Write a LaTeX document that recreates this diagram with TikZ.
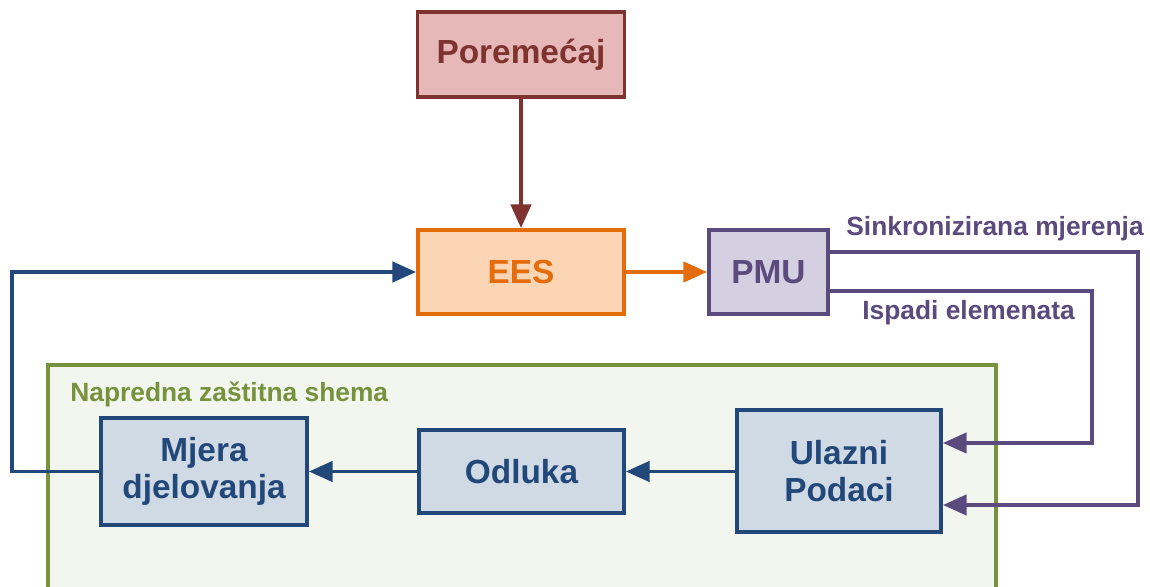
\documentclass[tikz,border=0pt]{standalone}
\usepackage{fontspec}
\setmainfont{Liberation Sans}
\usetikzlibrary{arrows.meta}
\definecolor{redD}{HTML}{7E3331}
\definecolor{redL}{HTML}{E6B9B8}
\definecolor{oraD}{HTML}{E46C0A}
\definecolor{oraL}{HTML}{FCD5B5}
\definecolor{purD}{HTML}{5B4A7E}
\definecolor{purL}{HTML}{D5CFE2}
\definecolor{bluD}{HTML}{22487A}
\definecolor{bluL}{HTML}{D0DAE5}
\definecolor{grnD}{HTML}{76923C}
\definecolor{grnL}{HTML}{F3F6EE}
\tikzset{
  box/.style={draw, line width=2.2pt, align=center, font=\bfseries\fontsize{19}{21}\selectfont, inner sep=0pt},
  redbox/.style={box, draw=redD, fill=redL, text=redD},
  orabox/.style={box, draw=oraD, fill=oraL, text=oraD},
  purbox/.style={box, draw=purD, fill=purL, text=purD},
  blubox/.style={box, draw=bluD, fill=bluL, text=bluD},
  conn/.style={line width=2.2pt, -{Triangle[length=13.5pt,width=11.5pt]}},
  lbl/.style={font=\bfseries\fontsize{15}{17}\selectfont, inner sep=0pt}
}
\begin{document}
\begin{tikzpicture}[x=0.02cm, y=-0.02cm]
\clip (0,0) rectangle (1150,587);
\fill[white] (0,0) rectangle (1150,587);
% container
\node[draw=grnD, fill=grnL, line width=2pt, minimum width=18.96cm, minimum height=5cm, inner sep=0pt] (zone) at (522,490) {};
\node[lbl, text=grnD, anchor=west] (zlbl) at (70,394) {Napredna zaštitna shema};
% boxes
\node[redbox, minimum width=4.14cm, minimum height=1.7cm] (por) at (521,54.5) {Poremećaj};
\node[orabox, minimum width=4.12cm, minimum height=1.68cm] (ees) at (521,272) {EES};
\node[purbox, minimum width=2.38cm, minimum height=1.68cm] (pmu) at (768.5,272) {PMU};
\node[blubox, minimum width=4.12cm, minimum height=2.14cm] (mje) at (204,471.5) {Mjera\\djelovanja};
\node[blubox, minimum width=4.1cm, minimum height=1.66cm] (odl) at (521.5,471.5) {Odluka};
\node[blubox, minimum width=4.08cm, minimum height=2.44cm] (ula) at (839,471) {Ulazni\\Podaci};
% connectors
\draw[conn, color=redD] (por.south) -- (ees.north);
\draw[conn, color=oraD] (ees.east) -- (pmu.west);
\coordinate (s1) at (1138,252);
\coordinate (s2) at (1138,505);
\coordinate (i1) at (1092,291);
\coordinate (i2) at (1092,443);
\draw[conn, color=purD] (pmu.east |- s1) -- (s1) -- (s2) -- (ula.east |- s2);
\draw[conn, color=purD] (pmu.east |- i1) -- (i1) -- (i2) -- (ula.east |- i2);
\node[lbl, text=purD, anchor=west] (sinl) at (846,229) {Sinkronizirana mjerenja};
\node[lbl, text=purD, anchor=west] (ispl) at (862,313) {Ispadi elemenata};
\draw[conn, color=bluD] (ula.west |- odl.east) -- (odl.east);
\draw[conn, color=bluD] (odl.west) -- (mje.east |- odl.west);
\coordinate (b1) at (12,471.5);
\coordinate (b2) at (12,272);
\draw[conn, color=bluD] (mje.west) -- (b1) -- (b2) -- (ees.west);
\end{tikzpicture}
\end{document}
